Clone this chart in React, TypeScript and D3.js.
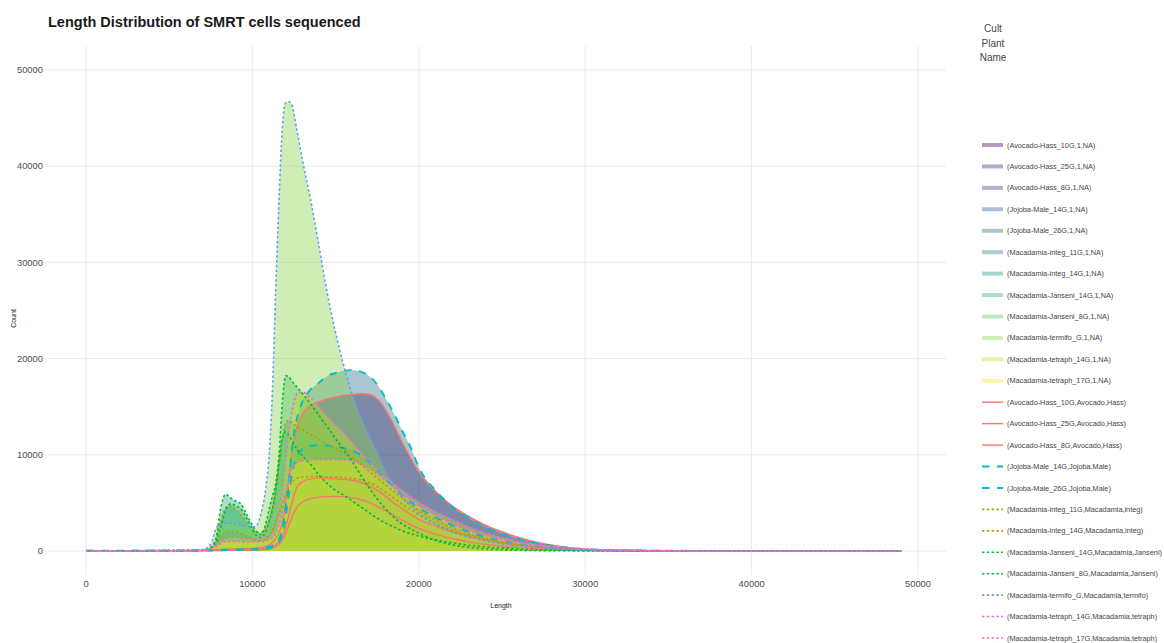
import React from "react";
import * as d3 from "d3";

// Read lengths (bp) at which the counts are sampled
const LENGTHS = [
  0, 1000, 2000, 3000, 4000, 5000, 6000, 7000,
  7500, 7800, 8100, 8400, 8700, 9000, 9300, 9600, 9900,
  10200, 10500, 10800, 11000, 11200, 11400, 11600, 11800, 12000, 12200, 12400, 12700, 13000,
  13500, 14000, 14500, 15000, 15500, 16000, 16500, 17000, 17500, 18000, 18500, 19000, 19500, 20000,
  21000, 22000, 23000, 24000, 25000, 26000, 27000, 28000, 29000, 30000,
  32000, 34000, 36000, 40000, 44000, 49000,
];

const AVOCADO_HASS_10G = [
  40, 30, 25, 30, 35, 40, 50, 70,
  100, 130, 160, 190, 210, 220, 230, 240, 260,
  300, 380, 500, 650, 900, 1300, 1900, 3000, 5000, 7800, 10500, 13000, 14200,
  15100, 15500, 15800, 16000, 16200, 16250, 16350, 16300, 15800, 14700, 13100, 11300, 9700, 8200,
  6200, 4700, 3600, 2700, 2000, 1400, 950, 600, 350, 200,
  80, 40, 20, 8, 3, 0,
];
const AVOCADO_HASS_25G = [
  25, 20, 18, 20, 22, 25, 30, 40,
  55, 65, 75, 85, 95, 100, 105, 110, 120,
  140, 170, 230, 300, 420, 650, 1000, 1500, 2500, 3800, 5200, 6700, 7200,
  7500, 7600, 7550, 7500, 7450, 7350, 7150, 6800, 6300, 5700, 5000, 4400, 3800, 3300,
  2600, 2000, 1550, 1150, 820, 580, 400, 260, 170, 110,
  45, 20, 10, 4, 1, 0,
];
const AVOCADO_HASS_8G = [
  20, 15, 12, 15, 18, 20, 25, 32,
  45, 50, 55, 60, 65, 70, 75, 80, 90,
  100, 130, 170, 220, 300, 450, 700, 1100, 1800, 2700, 3600, 4600, 5100,
  5450, 5600, 5650, 5680, 5650, 5550, 5350, 5050, 4650, 4200, 3700, 3200, 2750, 2350,
  1750, 1300, 950, 700, 500, 350, 240, 160, 100, 65,
  25, 12, 6, 2, 1, 0,
];
const JOJOBA_MALE_14G = [
  20, 15, 15, 20, 25, 30, 35, 50,
  60, 70, 80, 90, 100, 105, 110, 115, 125,
  140, 170, 220, 280, 380, 550, 900, 1800, 3600, 6000, 8200, 9900, 10600,
  10950, 11000, 10950, 10850, 10700, 10450, 10000, 9300, 8400, 7500, 6600, 5800, 5100, 4500,
  3500, 2700, 2000, 1450, 1050, 730, 500, 330, 210, 130,
  50, 25, 12, 5, 2, 0,
];
const JOJOBA_MALE_26G = [
  30, 25, 20, 25, 30, 35, 45, 60,
  80, 100, 120, 140, 150, 160, 170, 180, 200,
  230, 280, 350, 450, 600, 800, 1200, 2300, 4500, 7200, 11000, 13900, 15500,
  16800, 17500, 18200, 18500, 18750, 18800, 18650, 18200, 17300, 15900, 14300, 12500, 10800, 8700,
  6300, 4600, 3400, 2500, 1800, 1250, 850, 540, 330, 200,
  80, 40, 20, 8, 3, 0,
];
const MAC_INTEG_11G = [
  20, 18, 18, 20, 25, 30, 40, 70,
  200, 700, 1500, 2000, 2100, 2000, 1850, 1600, 1350,
  1150, 1100, 1300, 1600, 2100, 2900, 3900, 5000, 6000, 6700, 7200, 7600, 7700,
  7750, 7750, 7700, 7700, 7650, 7550, 7400, 7100, 6700, 6100, 5500, 4900, 4300, 3750,
  2850, 2150, 1600, 1200, 870, 620, 440, 300, 200, 135,
  55, 22, 10, 4, 1, 0,
];
const MAC_INTEG_14G = [
  30, 25, 25, 30, 35, 40, 55, 100,
  300, 1200, 3200, 4500, 4700, 4300, 3800, 3100, 2400,
  2000, 1900, 2400, 3200, 4500, 6500, 9000, 11500, 13300, 13600, 13300, 12900, 12600,
  12100, 11600, 11100, 10600, 10200, 9700, 9000, 8300, 7600, 6900, 6200, 5500, 4800, 4200,
  3200, 2400, 1750, 1300, 950, 680, 480, 330, 220, 150,
  60, 25, 12, 4, 1, 0,
];
const MAC_JANSENI_14G = [
  30, 25, 25, 30, 35, 40, 60, 120,
  400, 1200, 4500, 5900, 5500, 5200, 4900, 4000, 3000,
  2100, 1700, 2800, 4300, 5700, 7000, 10000, 15500, 18200, 18100, 17600, 17000, 16400,
  15300, 14100, 12900, 11700, 10500, 9300, 7900, 6600, 5400, 4400, 3500, 2800, 2300, 1850,
  1100, 650, 380, 220, 130, 80, 50, 30, 20, 12,
  5, 2, 1, 0, 0, 0,
];
const MAC_JANSENI_8G = [
  25, 20, 20, 25, 30, 35, 50, 90,
  250, 800, 2500, 4300, 4900, 4700, 4400, 3600, 2600,
  1700, 1400, 2000, 3000, 4300, 6200, 9000, 11800, 12400, 12000, 11400, 10500, 9900,
  9000, 7900, 7000, 6300, 5800, 5200, 4600, 4000, 3400, 2900, 2500, 2100, 1800, 1550,
  1150, 850, 600, 420, 300, 200, 140, 90, 60, 40,
  15, 7, 3, 1, 0, 0,
];
const MAC_TERMIFO_G = [
  40, 30, 30, 35, 40, 50, 70, 150,
  700, 2300, 2800, 2900, 2900, 2800, 2700, 2550, 2500,
  2550, 3800, 6500, 9800, 16500, 27000, 36500, 44000, 46600, 46700, 46200, 43500, 40700,
  36500, 31700, 26800, 22700, 19200, 16300, 14000, 12000, 10300, 8300, 6800, 5600, 4700, 3900,
  2800, 2000, 1450, 1050, 750, 520, 360, 250, 170, 110,
  50, 25, 12, 5, 2, 0,
];
const MAC_TETRAPH_14G = [
  25, 20, 20, 25, 30, 35, 45, 80,
  200, 600, 1000, 1300, 1400, 1400, 1350, 1300, 1250,
  1250, 1300, 1450, 1600, 1900, 2700, 4300, 6400, 9600, 12600, 14700, 16400, 16500,
  15900, 15000, 14000, 13100, 12300, 11300, 10300, 9400, 8500, 7700, 7000, 6300, 5700, 5100,
  4100, 3300, 2500, 1900, 1400, 1000, 700, 480, 320, 210,
  85, 35, 15, 5, 2, 0,
];
const MAC_TETRAPH_17G = [
  20, 18, 18, 20, 25, 30, 40, 65,
  150, 450, 750, 950, 1000, 1000, 980, 950, 930,
  930, 960, 1050, 1150, 1350, 1800, 2700, 4000, 5700, 7300, 8600, 9200, 9350,
  9450, 9500, 9500, 9480, 9450, 9350, 9050, 8600, 7950, 7300, 6600, 5900, 5300, 4700,
  3700, 2850, 2150, 1600, 1180, 850, 600, 410, 280, 185,
  75, 30, 13, 5, 2, 0,
];

const CELLS = [
  "Avocado-Hass_10G", "Avocado-Hass_25G", "Avocado-Hass_8G",
  "Jojoba-Male_14G", "Jojoba-Male_26G",
  "Macadamia-integ_11G", "Macadamia-integ_14G",
  "Macadamia-Janseni_14G", "Macadamia-Janseni_8G",
  "Macadamia-termifo_G",
  "Macadamia-tetraph_14G", "Macadamia-tetraph_17G",
];
const PLANTS = [
  "Avocado", "Avocado", "Avocado", "Jojoba", "Jojoba",
  "Macadamia", "Macadamia", "Macadamia", "Macadamia", "Macadamia", "Macadamia", "Macadamia",
];
const NAMES = [
  "Hass", "Hass", "Hass", "Male", "Male", "integ", "integ",
  "Janseni", "Janseni", "termifo", "tetraph", "tetraph",
];
const COUNTS = [
  AVOCADO_HASS_10G, AVOCADO_HASS_25G, AVOCADO_HASS_8G,
  JOJOBA_MALE_14G, JOJOBA_MALE_26G,
  MAC_INTEG_11G, MAC_INTEG_14G,
  MAC_JANSENI_14G, MAC_JANSENI_8G,
  MAC_TERMIFO_G,
  MAC_TETRAPH_14G, MAC_TETRAPH_17G,
];

const X_TICKS = [0, 10000, 20000, 30000, 40000, 50000];
const Y_TICKS = [0, 10000, 20000, 30000, 40000, 50000];

const NAME_COLORS: Record<string, string> = {
  Hass: "#F8766D",
  integ: "#B79F00",
  Janseni: "#00BA38",
  Male: "#00BFC4",
  termifo: "#619CFF",
  tetraph: "#F564E3",
};
const PLANT_DASH: Record<string, string> = {
  Avocado: "none",
  Jojoba: "7.5,7.5",
  Macadamia: "2.4,2.4",
};
const PLANT_WIDTH: Record<string, number> = {
  Avocado: 1.4,
  Jojoba: 1.9,
  Macadamia: 1.6,
};

const W = 1164;
const H = 643;
const PLOT = { left: 45, right: 946, top: 46, bottom: 575 };
const FONT = "'Liberation Sans', Arial, Helvetica, sans-serif";
const FILL_ALPHA = 0.4;

export default function App() {
  const x = d3.scaleLinear().domain([0, 50000]).range([86, 918]);
  const y = d3.scaleLinear().domain([0, 50000]).range([551, 70]);
  const fillColor = (i: number) => d3.interpolateViridis(i / (CELLS.length - 1));

  const area = d3
    .area<number>()
    .x((_, i) => x(LENGTHS[i]))
    .y0(y(0))
    .y1((d) => y(d))
    .curve(d3.curveMonotoneX);
  const line = d3
    .line<number>()
    .x((_, i) => x(LENGTHS[i]))
    .y((d) => y(d))
    .curve(d3.curveMonotoneX);

  const legendItems = [
    ...CELLS.map((c, i) => ({ kind: "fill", i, label: `(${c},1,NA)` })),
    ...CELLS.map((c, i) => ({ kind: "line", i, label: `(${c},${PLANTS[i]},${NAMES[i]})` })),
  ];
  const legendY = d3.scaleLinear().domain([0, legendItems.length - 1]).range([145, 638]);

  return (
    <svg
      width={W}
      height={H}
      viewBox={`0 0 ${W} ${H}`}
      style={{ position: "absolute", left: 0, top: 0, background: "#fff" }}
      fontFamily={FONT}
    >
      <defs>
        <clipPath id="plot-clip">
          <rect x={PLOT.left} y={PLOT.top} width={PLOT.right - PLOT.left} height={PLOT.bottom - PLOT.top} />
        </clipPath>
      </defs>

      {/* grid */}
      <g stroke="#ebebeb" strokeWidth={1}>
        {X_TICKS.map((t) => (
          <line key={`gx${t}`} x1={x(t)} x2={x(t)} y1={PLOT.top} y2={PLOT.bottom} />
        ))}
        {Y_TICKS.map((t) => (
          <line key={`gy${t}`} x1={PLOT.left} x2={PLOT.right} y1={y(t)} y2={y(t)} />
        ))}
      </g>

      <g clipPath="url(#plot-clip)">
        {COUNTS.map((vals, i) => (
          <path key={`a${i}`} d={area(vals) || ""} fill={fillColor(i)} fillOpacity={FILL_ALPHA} stroke="none" />
        ))}
        {COUNTS.map((vals, i) => (
          <path
            key={`l${i}`}
            d={line(vals) || ""}
            fill="none"
            stroke={NAME_COLORS[NAMES[i]]}
            strokeWidth={PLANT_WIDTH[PLANTS[i]]}
            strokeDasharray={PLANT_DASH[PLANTS[i]]}
          />
        ))}
      </g>

      {/* axes labels */}
      <g fontSize={9.4} fill="#4d4d4d">
        {Y_TICKS.map((t) => (
          <text key={`ty${t}`} x={43} y={y(t)} dy="0.35em" textAnchor="end">
            {t}
          </text>
        ))}
        {X_TICKS.map((t) => (
          <text key={`tx${t}`} x={x(t)} y={584} dy="0.35em" textAnchor="middle">
            {t}
          </text>
        ))}
      </g>
      <text x={501} y={606} dy="0.35em" textAnchor="middle" fontSize={7} fill="#222">
        Length
      </text>
      <text
        transform={`translate(14,${(PLOT.top + PLOT.bottom) / 2 + 8}) rotate(-90)`}
        dy="0.35em"
        textAnchor="middle"
        fontSize={7}
        fill="#222"
      >
        Count
      </text>

      <text x={48} y={27} fontSize={14.5} fontWeight="bold" fill="#1a1a1a">
        Length Distribution of SMRT cells sequenced
      </text>

      {/* legend */}
      <g fontSize={10} fill="#444" textAnchor="middle">
        <text x={993} y={28} dy="0.35em">Cult</text>
        <text x={993} y={43} dy="0.35em">Plant</text>
        <text x={993} y={57} dy="0.35em">Name</text>
      </g>
      <g fontSize={7.3} fill="#444">
        {legendItems.map((it, k) => {
          const ly = legendY(k);
          return (
            <g key={`lg${k}`}>
              {it.kind === "fill" ? (
                <rect x={982} y={ly - 2} width={21} height={4} fill={fillColor(it.i)} fillOpacity={FILL_ALPHA} />
              ) : (
                <line
                  x1={982}
                  x2={1003}
                  y1={ly}
                  y2={ly}
                  stroke={NAME_COLORS[NAMES[it.i]]}
                  strokeWidth={PLANT_WIDTH[PLANTS[it.i]]}
                  strokeDasharray={PLANT_DASH[PLANTS[it.i]]}
                />
              )}
              <text x={1007} y={ly} dy="0.35em">
                {it.label}
              </text>
            </g>
          );
        })}
      </g>
    </svg>
  );
}
